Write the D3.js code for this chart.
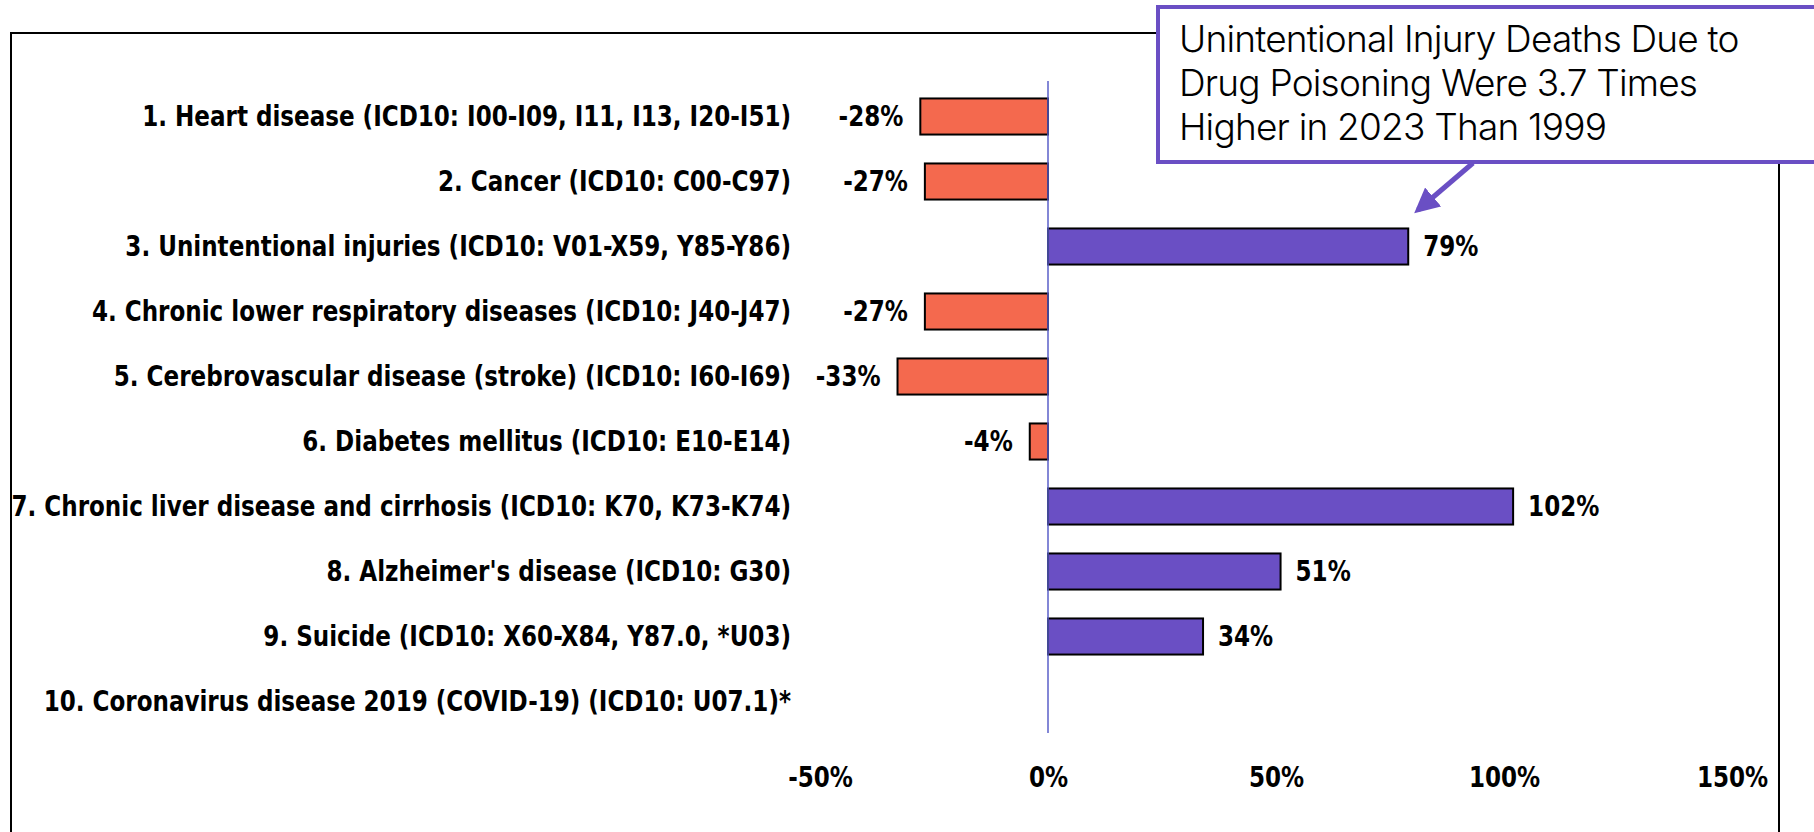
<!DOCTYPE html>
<html>
<head>
<meta charset="utf-8">
<script src="https://cdn.jsdelivr.net/npm/d3@7"></script>
<style>
  body { margin: 0; background: #fff; }
  svg { display: block; }
</style>
</head>
<body>
<div id="chart"></div>
<script>
// Change in death rates 1999 -> 2023, by leading cause
const causes = [
  '1. Heart disease (ICD10: I00-I09, I11, I13, I20-I51)',
  '2. Cancer (ICD10: C00-C97)',
  '3. Unintentional injuries (ICD10: V01-X59, Y85-Y86)',
  '4. Chronic lower respiratory diseases (ICD10: J40-J47)',
  '5. Cerebrovascular disease (stroke) (ICD10: I60-I69)',
  '6. Diabetes mellitus (ICD10: E10-E14)',
  '7. Chronic liver disease and cirrhosis (ICD10: K70, K73-K74)',
  "8. Alzheimer's disease (ICD10: G30)",
  '9. Suicide (ICD10: X60-X84, Y87.0, *U03)',
  '10. Coronavirus disease 2019 (COVID-19) (ICD10: U07.1)*'
]
const pctChange = [-28, -27, 79, -27, -33, -4, 102, 51, 34, null]
const xTicks = [-50, 0, 50, 100, 150]
const noteLines = [
  'Unintentional Injury Deaths Due to',
  'Drug Poisoning Were 3.7 Times',
  'Higher in 2023 Than 1999'
]

const width = 1814
const height = 832
const purple = '#6a4fc4'
const orange = '#f4694e'
const labelFont = "'Liberation Sans Narrow', 'Arial Narrow', 'DejaVu Sans Condensed', sans-serif"
const fontSize = 28

const svg = d3.select('#chart')
  .append('svg')
  .attr('width', width)
  .attr('height', height)

// outer frame
svg.append('rect')
  .attr('x', 11)
  .attr('y', 33)
  .attr('width', 1768)
  .attr('height', 820)
  .attr('fill', 'none')
  .attr('stroke', '#000')
  .attr('stroke-width', 2)

let x = d3.scaleLinear().domain([-50, 150]).range([820, 1732])
let y = d3.scaleBand().domain(causes).range([84, 734]).paddingInner(0.445).paddingOuter(0.2225)

let rows = causes.map((c, i) => ({ cause: c, value: pctChange[i] }))
let withValue = rows.filter(d => d.value !== null)

// the original font is a narrow one, so squeeze the fallback to the same width
let probe = svg.append('text')
  .attr('font-family', labelFont)
  .attr('font-weight', 'bold')
  .attr('font-size', fontSize)
  .text(causes[6])
let squeeze = Math.min(1, 780 / probe.node().getComputedTextLength())
probe.remove()

const narrowText = (sel) => sel
  .attr('font-family', labelFont)
  .attr('font-weight', 'bold')
  .attr('font-size', fontSize)
  .attr('dy', '0.35em')

// category labels
svg.append('g')
  .selectAll('text')
  .data(rows)
  .enter()
  .append('text')
  .attr('transform', d => `translate(791,${y(d.cause) + y.bandwidth() / 2}) scale(${squeeze},1)`)
  .attr('text-anchor', 'end')
  .call(narrowText)
  .text(d => d.cause)

// bars
svg.append('g')
  .selectAll('rect')
  .data(withValue)
  .enter()
  .append('rect')
  .attr('x', d => Math.min(x(0), x(d.value)))
  .attr('y', d => y(d.cause))
  .attr('width', d => Math.abs(x(d.value) - x(0)))
  .attr('height', y.bandwidth())
  .attr('fill', d => d.value < 0 ? orange : purple)
  .attr('stroke', '#000')
  .attr('stroke-width', 2)

// zero line
svg.append('line')
  .attr('x1', x(0))
  .attr('x2', x(0))
  .attr('y1', 81)
  .attr('y2', 733)
  .attr('stroke', '#5a5fc8')
  .attr('stroke-width', 1.5)

// value labels
svg.append('g')
  .selectAll('text')
  .data(withValue)
  .enter()
  .append('text')
  .attr('transform', d => {
    let px = d.value < 0 ? x(d.value) - 17 : x(d.value) + 15
    return `translate(${px},${y(d.cause) + y.bandwidth() / 2}) scale(${squeeze},1)`
  })
  .attr('text-anchor', d => d.value < 0 ? 'end' : 'start')
  .call(narrowText)
  .text(d => d.value + '%')

// x axis (labels only)
let xAxis = d3.axisBottom(x)
  .tickValues(xTicks)
  .tickFormat(d => d + '%')
  .tickSize(0)
  .tickPadding(0)

let axisG = svg.append('g')
  .attr('transform', 'translate(0,777)')
  .call(xAxis)
axisG.select('.domain').remove()
axisG.selectAll('text')
  .call(narrowText)
  .attr('y', 0)
  .attr('transform', `scale(${squeeze},1)`)
  .attr('fill', '#000')

// annotation box
svg.append('rect')
  .attr('x', 1158)
  .attr('y', 7)
  .attr('width', 700)
  .attr('height', 155)
  .attr('fill', '#fff')
  .attr('stroke', purple)
  .attr('stroke-width', 4)

svg.append('g')
  .selectAll('text')
  .data(noteLines)
  .enter()
  .append('text')
  .attr('x', 1179)
  .attr('y', (d, i) => 39 + i * 44)
  .attr('dy', '0.35em')
  .attr('font-family', 'Inter, sans-serif')
  .attr('font-size', 37)
  .attr('font-weight', 300)
  .attr('letter-spacing', -0.8)
  .attr('fill', '#000')
  .text(d => d)

// arrow pointing at the unintentional injuries bar
svg.append('defs').append('marker')
  .attr('id', 'head')
  .attr('viewBox', '0 0 10 10')
  .attr('refX', 8)
  .attr('refY', 5)
  .attr('markerWidth', 5)
  .attr('markerHeight', 5)
  .attr('orient', 'auto')
  .append('path')
  .attr('d', 'M0,0 L10,5 L0,10 Z')
  .attr('fill', purple)

svg.append('line')
  .attr('x1', 1473)
  .attr('y1', 163)
  .attr('x2', 1418)
  .attr('y2', 210)
  .attr('stroke', purple)
  .attr('stroke-width', 5)
  .attr('marker-end', 'url(#head)')
</script>
</body>
</html>
